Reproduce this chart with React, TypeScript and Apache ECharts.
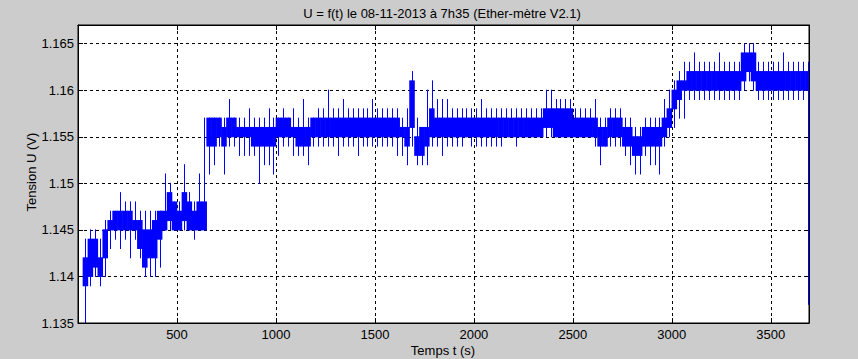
import React, { useEffect, useRef } from "react";
import * as echarts from "echarts";

const TITLE = "U = f(t) le 08-11-2013 à 7h35 (Ether-mètre V2.1)";
const X_NAME = "Temps t (s)";
const Y_NAME = "Tension U (V)";

// Axis ranges / ticks
const xRange = [0, 3693];
const xTickStep = 500;
const yRange = [1.135, 1.167];
const yTickStep = 0.005;

// Signal, one entry per 25 s bin starting at t = 25 s.
// Values in mV: coreLow/coreHigh = the dense band, spikeMin/spikeMax = extreme excursions in the bin.
const binStart = 25;
const binWidth = 25;

const coreLow = [
  1139, 1140, 1141, 1140, 1142, 1145, 1145, 1145, 1145, 1145,
  1145, 1143, 1141, 1142, 1142, 1144, 1145, 1146, 1145, 1145,
  1146, 1145, 1145, 1145, 1145, 1154, 1154, 1155, 1154, 1155,
  1155, 1155, 1155, 1155, 1154, 1154, 1154, 1154, 1154, 1155,
  1155, 1155, 1155, 1154, 1154, 1154, 1155, 1155, 1155, 1155,
  1155, 1155, 1155, 1155, 1155, 1155, 1155, 1155, 1155, 1155,
  1155, 1155, 1155, 1155, 1155, 1154, 1156, 1153, 1153, 1154,
  1155, 1155, 1155, 1155, 1155, 1155, 1155, 1155, 1155, 1155,
  1155, 1155, 1155, 1155, 1155, 1155, 1155, 1155, 1155, 1155,
  1155, 1155, 1155, 1156, 1156, 1155, 1155, 1155, 1155, 1155,
  1155, 1155, 1155, 1155, 1154, 1154, 1155, 1155, 1155, 1154,
  1154, 1153, 1153, 1154, 1154, 1154, 1154, 1155, 1156, 1158,
  1159, 1160, 1160, 1160, 1160, 1160, 1160, 1160, 1160, 1160,
  1160, 1160, 1160, 1161, 1162, 1161, 1160, 1160, 1160, 1160,
  1160, 1160, 1160, 1160, 1160, 1160, 1160,
];

const coreHigh = [
  1142, 1144, 1144, 1142, 1145, 1146, 1147, 1147, 1147, 1147,
  1146, 1146, 1145, 1145, 1146, 1147, 1147, 1149, 1148, 1147,
  1149, 1148, 1147, 1148, 1148, 1157, 1157, 1157, 1156, 1157,
  1157, 1156, 1156, 1156, 1156, 1156, 1156, 1156, 1156, 1157,
  1157, 1157, 1156, 1156, 1156, 1156, 1157, 1157, 1157, 1157,
  1157, 1157, 1157, 1157, 1157, 1157, 1157, 1157, 1157, 1157,
  1157, 1157, 1157, 1157, 1156, 1156, 1161, 1155, 1156, 1156,
  1158, 1157, 1157, 1157, 1157, 1157, 1157, 1157, 1157, 1157,
  1157, 1157, 1157, 1157, 1157, 1157, 1157, 1157, 1157, 1157,
  1157, 1157, 1157, 1158, 1158, 1158, 1158, 1158, 1158, 1157,
  1157, 1157, 1157, 1157, 1156, 1156, 1157, 1157, 1157, 1156,
  1156, 1155, 1155, 1156, 1156, 1156, 1156, 1157, 1158, 1160,
  1161, 1161, 1162, 1162, 1162, 1162, 1162, 1162, 1162, 1162,
  1162, 1162, 1162, 1164, 1164, 1164, 1162, 1162, 1162, 1162,
  1162, 1162, 1162, 1162, 1162, 1162, 1162,
];

const spikeMin = [
  1135, 1139, 1140, 1139, 1140, 1143, 1144, 1143, 1144, 1142,
  1144, 1142, 1140, 1140, 1140, 1141, 1145, 1145, 1145, 1145,
  1145, 1145, 1144, 1145, 1145, 1151, 1152, 1154, 1151, 1154,
  1154, 1153, 1153, 1153, 1153, 1150, 1152, 1152, 1151, 1153,
  1154, 1154, 1153, 1153, 1153, 1152, 1154, 1154, 1154, 1154,
  1154, 1153, 1154, 1154, 1154, 1153, 1154, 1154, 1154, 1154,
  1154, 1154, 1154, 1153, 1153, 1152, 1154, 1152, 1152, 1152,
  1154, 1154, 1153, 1154, 1154, 1154, 1154, 1155, 1154, 1154,
  1154, 1154, 1154, 1154, 1154, 1155, 1155, 1154, 1155, 1155,
  1155, 1155, 1155, 1155, 1155, 1155, 1155, 1155, 1155, 1155,
  1155, 1155, 1155, 1154, 1152, 1154, 1154, 1154, 1154, 1153,
  1152, 1151, 1151, 1153, 1152, 1152, 1151, 1154, 1155, 1156,
  1157, 1157, 1159, 1159, 1159, 1159, 1159, 1159, 1159, 1159,
  1159, 1159, 1159, 1160, 1161, 1160, 1159, 1159, 1159, 1159,
  1159, 1159, 1159, 1159, 1159, 1159, 1137,
];

const spikeMax = [
  1144, 1145, 1145, 1144, 1146, 1147, 1147, 1149, 1148, 1148,
  1148, 1147, 1147, 1147, 1147, 1147, 1151, 1150, 1148, 1148,
  1152, 1149, 1148, 1151, 1157, 1157, 1157, 1157, 1157, 1159,
  1157, 1157, 1157, 1158, 1157, 1157, 1157, 1158, 1157, 1157,
  1158, 1157, 1158, 1157, 1159, 1157, 1157, 1158, 1158, 1160,
  1158, 1158, 1159, 1158, 1158, 1158, 1158, 1158, 1159, 1158,
  1158, 1158, 1158, 1158, 1157, 1158, 1162, 1157, 1156, 1160,
  1161, 1159, 1159, 1159, 1158, 1158, 1158, 1158, 1158, 1158,
  1159, 1158, 1158, 1158, 1158, 1158, 1158, 1158, 1158, 1158,
  1158, 1158, 1158, 1160, 1160, 1159, 1159, 1159, 1159, 1158,
  1158, 1158, 1158, 1159, 1157, 1157, 1158, 1158, 1158, 1157,
  1157, 1156, 1156, 1157, 1157, 1157, 1157, 1159, 1160, 1161,
  1162, 1163, 1163, 1164, 1163, 1163, 1163, 1163, 1164, 1163,
  1163, 1163, 1163, 1165, 1165, 1165, 1163, 1163, 1163, 1163,
  1163, 1164, 1163, 1163, 1163, 1163, 1163,
];

const FONT = '"Liberation Sans", Arial, Helvetica, sans-serif';
const FONT_SIZE = 13;

export default function App() {
  const ref = useRef<HTMLDivElement>(null);

  useEffect(() => {
    if (!ref.current) return;
    const chart = echarts.init(ref.current, undefined, { renderer: "svg" });

    const rows = coreLow.map((lo, i) => [
      binStart + i * binWidth + binWidth / 2,
      lo / 1000,
      coreHigh[i] / 1000,
      spikeMin[i] / 1000,
      spikeMax[i] / 1000,
    ]);

    const axisLine = { show: true, onZero: false, lineStyle: { color: "#000", width: 1 } };
    const axisTick = { show: true, inside: true, length: 5, lineStyle: { color: "#000", width: 1 } };
    const splitLine = { show: true, lineStyle: { color: "#000", width: 1, type: [3, 3] } };
    const labelStyle = { color: "#000", fontSize: FONT_SIZE, fontFamily: FONT };

    const option: any = {
      animation: false,
      backgroundColor: "#cccccc",
      grid: {
        left: 78,
        right: 49,
        top: 25,
        bottom: 36,
        show: true,
        backgroundColor: "#ffffff",
        borderColor: "#000",
        borderWidth: 1,
      },
      xAxis: [
        {
          type: "value",
          position: "bottom",
          min: xRange[0],
          max: xRange[1],
          interval: xTickStep,
          axisLine,
          axisTick,
          axisLabel: {
            ...labelStyle,
            margin: 5,
            showMinLabel: false,
            showMaxLabel: false,
            formatter: (v: number) => String(v),
          },
          splitLine,
        },
        {
          type: "value",
          position: "top",
          min: xRange[0],
          max: xRange[1],
          interval: xTickStep,
          axisLine,
          axisTick,
          axisLabel: { show: false },
          splitLine: { show: false },
        },
      ],
      yAxis: [
        {
          type: "value",
          position: "left",
          min: yRange[0],
          max: yRange[1],
          interval: yTickStep,
          axisLine,
          axisTick,
          axisLabel: {
            ...labelStyle,
            margin: 4,
            showMaxLabel: false,
            formatter: (v: number) => String(parseFloat(v.toFixed(3))),
          },
          splitLine,
        },
        {
          type: "value",
          position: "right",
          min: yRange[0],
          max: yRange[1],
          interval: yTickStep,
          axisLine,
          axisTick,
          axisLabel: { show: false },
          splitLine: { show: false },
        },
      ],
      graphic: [
        {
          type: "text",
          x: 442,
          y: 13,
          style: { text: TITLE, font: `${FONT_SIZE}px ${FONT}`, fill: "#000", align: "center", verticalAlign: "middle" },
        },
        {
          type: "text",
          x: 443,
          y: 350,
          style: { text: X_NAME, font: `${FONT_SIZE}px ${FONT}`, fill: "#000", align: "center", verticalAlign: "middle" },
        },
        {
          type: "text",
          x: 31,
          y: 172,
          rotation: Math.PI / 2,
          style: { text: Y_NAME, font: `${FONT_SIZE}px ${FONT}`, fill: "#000", align: "center", verticalAlign: "middle" },
        },
      ],
      series: [
        {
          type: "custom",
          xAxisIndex: 0,
          yAxisIndex: 0,
          clip: true,
          encode: { x: 0, y: [1, 2, 3, 4] },
          data: rows,
          renderItem: (params: any, api: any) => {
            const t = api.value(0);
            const a = api.coord([t - binWidth / 2, api.value(2)]);
            const b = api.coord([t + binWidth / 2, api.value(1)]);
            const top = api.coord([t, api.value(4)]);
            const bot = api.coord([t, api.value(3)]);
            const cx = Math.round(top[0]) + 0.5;
            return {
              type: "group",
              children: [
                {
                  type: "rect",
                  shape: { x: a[0] - 0.3, y: a[1] - 0.5, width: b[0] - a[0] + 0.6, height: b[1] - a[1] + 1 },
                  style: { fill: "#0000ff" },
                },
                {
                  type: "line",
                  shape: { x1: cx, y1: top[1] - 0.5, x2: cx, y2: bot[1] + 0.5 },
                  style: { stroke: "#0000ff", lineWidth: 1 },
                },
              ],
            };
          },
        },
      ],
    };

    chart.setOption(option);
    return () => chart.dispose();
  }, []);

  return (
    <div
      ref={ref}
      style={{ position: "fixed", left: 0, top: 0, width: 858, height: 359 }}
    />
  );
}
